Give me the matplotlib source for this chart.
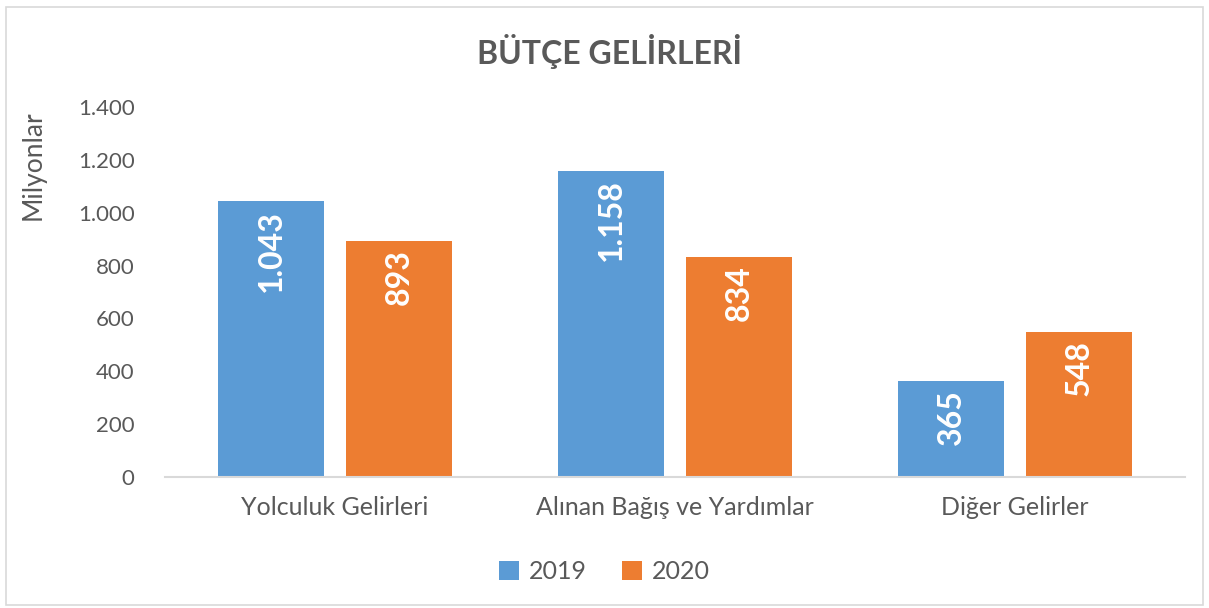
import matplotlib
matplotlib.use("Agg")
import matplotlib.pyplot as plt
import numpy as np
from matplotlib.patches import Rectangle
from matplotlib.ticker import FuncFormatter

# chart data
categories = ["Yolculuk Gelirleri", "Alınan Bağış ve Yardımlar", "Diğer Gelirler"]
years = ["2019", "2020"]
values_2019 = [1043, 1158, 365]
values_2020 = [893, 834, 548]
value_labels_2019 = ["1.043", "1.158", "365"]
value_labels_2020 = ["893", "834", "548"]

blue = "#5B9BD5"
orange = "#ED7D31"
grey = "#595959"

plt.rcParams["font.family"] = ["Lato", "DejaVu Sans"]

fig = plt.figure(figsize=(12.09, 6.08), dpi=100)
ax = fig.add_axes([0.1365, 0.2155, 0.8435, 0.6085])

x = np.arange(len(categories))
width = 0.312
offset = 0.188

bars1 = ax.bar(x - offset, values_2019, width, color=blue, label=years[0])
bars2 = ax.bar(x + offset, values_2020, width, color=orange, label=years[1])

# value labels inside the bar ends, rotated
for bars, labels in [(bars1, value_labels_2019), (bars2, value_labels_2020)]:
    for b, lab in zip(bars, labels):
        ax.annotate(lab, (b.get_x() + b.get_width() / 2, b.get_height()),
                    xytext=(0, -6), textcoords="offset points",
                    rotation=90, ha="center", va="top",
                    color="white", fontsize=23, fontweight="bold")

ax.set_xlim(-0.5, 2.5)
ax.set_ylim(0, 1400)
ax.set_yticks(range(0, 1401, 200))
ax.yaxis.set_major_formatter(FuncFormatter(lambda v, p: f"{int(v):,}".replace(",", ".")))
ax.set_xticks(x)
ax.set_xticklabels(categories)

for s in ["top", "right", "left"]:
    ax.spines[s].set_visible(False)
ax.spines["bottom"].set_color("#D9D9D9")
ax.spines["bottom"].set_linewidth(1.5)
ax.tick_params(axis="both", length=0, colors=grey, labelsize=16)
ax.tick_params(axis="x", pad=14, labelsize=18)
ax.tick_params(axis="y", pad=22)

fig.text(0.504, 0.915, "BÜTÇE GELİRLERİ", ha="center", va="center",
         fontsize=23, fontweight="bold", color=grey)
fig.text(0.027, 0.728, "Milyonlar", rotation=90, ha="center", va="center",
         fontsize=19, color=grey)

fig.legend(loc="center", bbox_to_anchor=(0.5, 0.06), ncol=2, frameon=False,
           fontsize=18, labelcolor=grey, handlelength=0.8, handleheight=0.8,
           handletextpad=0.4, columnspacing=1.4)

# outer chart border
fig.patches.append(Rectangle((0.005, 0.005), 0.99, 0.983, transform=fig.transFigure,
                             fill=False, edgecolor="#D9D9D9", linewidth=1.2))

fig.savefig("out.png", dpi=100)
